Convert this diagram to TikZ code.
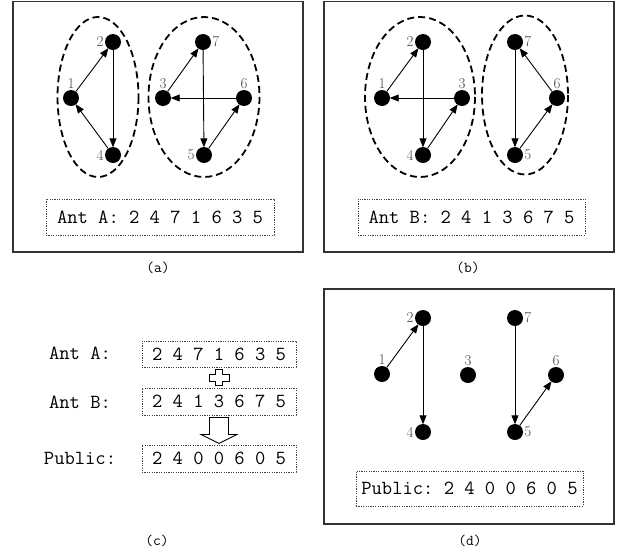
\documentclass[tikz,border=0pt]{standalone}
\usepackage{fontspec}
\usetikzlibrary{arrows.meta, calc}

\begin{document}
\frenchspacing
\begin{tikzpicture}[x=1pt, y=-1pt,
    every node/.style={font=\fontsize{20}{23}\selectfont\ttfamily},
    ant/.style={circle, fill=black, minimum size=16pt, inner sep=0pt},
    numlbl/.style={font=\fontsize{15}{15}\selectfont\rmfamily, text=black!72, inner sep=0pt},
    label distance=1pt,
    arr/.style={-{Triangle[length=9pt, width=7pt]}, line width=0.9pt, shorten >=-0.5pt},
    group/.style={dashed, dash pattern=on 7pt off 4pt, line width=1.8pt},
    frame/.style={draw=black!80, line width=1.5pt},
    seqbox/.style={draw=black!75, line width=0.9pt, dash pattern=on 1.2pt off 1.2pt, inner sep=0pt},
    caplbl/.style={font=\fontsize{15}{15}\selectfont\ttfamily},
    hollow/.style={draw=black, line width=0.9pt, fill=white}
]
\useasboundingbox (0,0) rectangle (624,555);

% ===== (a) Ant A =====
\draw[frame] (13,1.5) rectangle (303,252);
\draw[group] (98,97) ellipse [x radius=40.5, y radius=80];
\draw[group] (204,97) ellipse [x radius=55.5, y radius=80];
\node[ant, label={[numlbl]above:1}] (a1) at (71,98) {};
\node[ant, label={[numlbl]left:2}]  (a2) at (113,42) {};
\node[ant, label={[numlbl]above:3}] (a3) at (163,98) {};
\node[ant, label={[numlbl]left:4}]  (a4) at (113,155) {};
\node[ant, label={[numlbl]left:5}]  (a5) at (204,155) {};
\node[ant, label={[numlbl]above:6}] (a6) at (244,98) {};
\node[ant, label={[numlbl]right:7}] (a7) at (203,42) {};
\draw[arr] (a1) -- (a2);
\draw[arr] (a2) -- (a4);
\draw[arr] (a4) -- (a1);
\draw[arr] (a3) -- (a7);
\draw[arr] (a7) -- (a5);
\draw[arr] (a5) -- (a6);
\draw[arr] (a6) -- (a3);
\node[seqbox, minimum width=228pt, minimum height=36pt] (seqa) at (160,217) {Ant A: 2 4 7 1 6 3 5};
\node[caplbl] (capa) at (158,268) {(a)};

% ===== (b) Ant B =====
\draw[frame] (324,1.5) rectangle (614,252);
\draw[group] (420,97) ellipse [x radius=55, y radius=80];
\draw[group] (525,95) ellipse [x radius=43, y radius=79.5];
\node[ant, label={[numlbl]above:1}] (b1) at (382,98) {};
\node[ant, label={[numlbl]left:2}]  (b2) at (423,42) {};
\node[ant, label={[numlbl]above:3}] (b3) at (462,98) {};
\node[ant, label={[numlbl]left:4}]  (b4) at (423,155) {};
\node[ant, label={[numlbl]right:5}] (b5) at (515,155) {};
\node[ant, label={[numlbl]above:6}] (b6) at (557,98) {};
\node[ant, label={[numlbl]right:7}] (b7) at (515,42) {};
\draw[arr] (b1) -- (b2);
\draw[arr] (b2) -- (b4);
\draw[arr] (b4) -- (b3);
\draw[arr] (b3) -- (b1);
\draw[arr] (b7) -- (b5);
\draw[arr] (b5) -- (b6);
\draw[arr] (b6) -- (b7);
\node[seqbox, minimum width=227pt, minimum height=36pt] (seqb) at (471.5,217) {Ant B: 2 4 1 3 6 7 5};
\node[caplbl] (capb) at (468,268) {(b)};

% ===== (c) merging =====
\node (lblA) at (80,353) {Ant A:};
\node (lblB) at (80,402) {Ant B:};
\node (lblP) at (80,458) {Public:};
\node[seqbox, minimum width=154pt, minimum height=26pt] (cA) at (219,354) {2 4 7 1 6 3 5};
\node[seqbox, minimum width=154pt, minimum height=27pt] (cB) at (219,401.5) {2 4 1 3 6 7 5};
\node[seqbox, minimum width=154pt, minimum height=27pt] (cP) at (219,458.5) {2 4 0 0 6 0 5};
\coordinate (pc) at ($(cA.south)!0.5!(cB.north)$);
\draw[hollow] ($(pc)+(-3.5,-8)$) -- ++(7,0) -- ++(0,4.5) -- ++(6.5,0) -- ++(0,7) -- ++(-6.5,0)
    -- ++(0,4.5) -- ++(-7,0) -- ++(0,-4.5) -- ++(-6.5,0) -- ++(0,-7) -- ++(6.5,0) -- cycle;
\draw[hollow] ($(cB.south)+(-9.5,2)$) -- ++(19,0) -- ++(0,17) -- ++(8.5,0) -- ++(-18,9)
    -- ++(-18,-9) -- ++(8.5,0) -- cycle;
\node[caplbl] (capc) at (157,541) {(c)};

% ===== (d) public sequence =====
\draw[frame] (324,289) rectangle (614,524);
\node[ant, label={[numlbl]above:1}] (d1) at (382,374) {};
\node[ant, label={[numlbl]left:2}]  (d2) at (423,318) {};
\node[ant, label={[numlbl]above:3}] (d3) at (468,375) {};
\node[ant, label={[numlbl]left:4}]  (d4) at (423,432) {};
\node[ant, label={[numlbl]right:5}] (d5) at (515,432) {};
\node[ant, label={[numlbl]above:6}] (d6) at (556,375) {};
\node[ant, label={[numlbl]right:7}] (d7) at (515,318) {};
\draw[arr] (d1) -- (d2);
\draw[arr] (d2) -- (d4);
\draw[arr] (d7) -- (d5);
\draw[arr] (d5) -- (d6);
\node[seqbox, minimum width=227pt, minimum height=35pt] (seqd) at (469.5,488.5) {Public: 2 4 0 0 6 0 5};
\node[caplbl] (capd) at (470,541) {(d)};

\end{tikzpicture}
\end{document}
